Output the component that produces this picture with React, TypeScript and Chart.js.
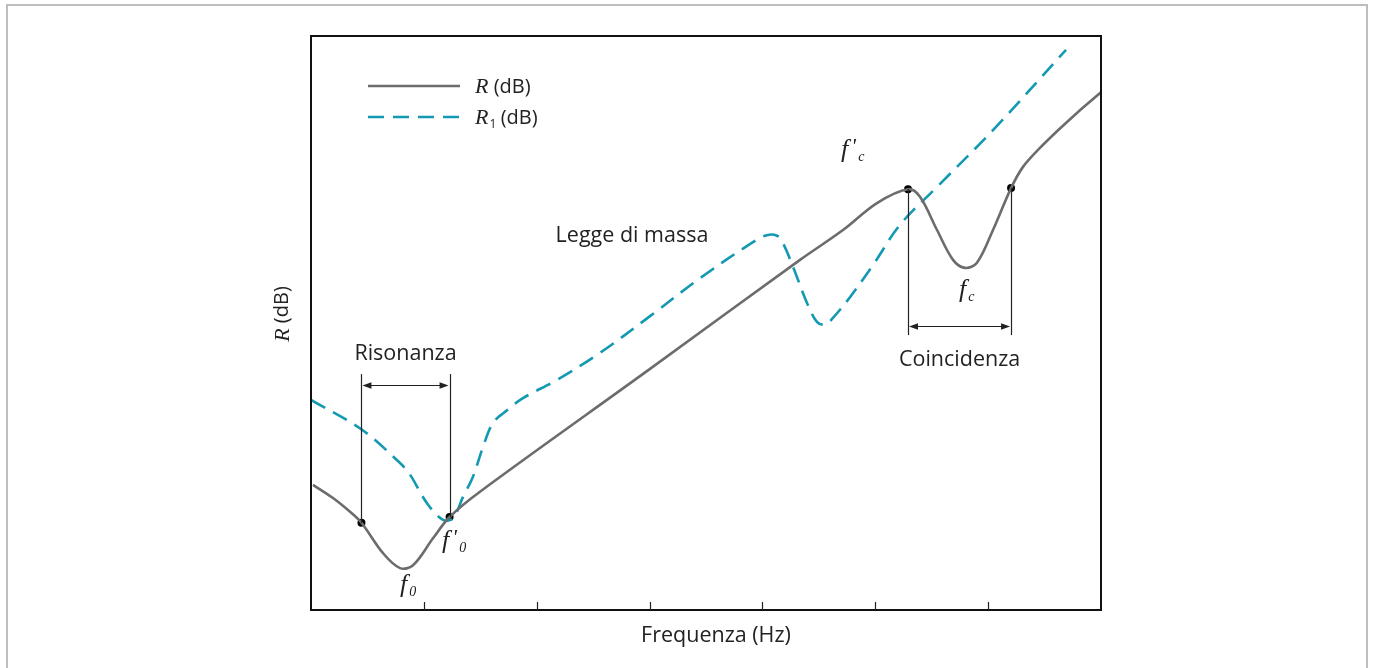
import React, { useEffect, useRef } from "react";
import { Chart, registerables } from "chart.js";

Chart.register(...registerables);

// ---- data (x: 0..7 frequency units, y: 0..100 dB units) ----
const rX = [0.018, 0.195, 0.346, 0.447, 0.638, 0.789, 0.904, 1.081, 1.228, 1.497, 3.004, 4.333, 4.714, 5.015, 5.29, 5.396, 5.547, 5.689, 5.795, 5.901, 6.043, 6.203, 6.309, 6.459, 6.61, 6.787, 7.0];
const rY = [21.8, 19.5, 17.1, 15.2, 9.9, 7.3, 7.8, 12.5, 16.2, 20.6, 42.0, 61.0, 66.2, 70.9, 73.3, 72.0, 66.2, 61.0, 59.6, 60.5, 66.2, 73.5, 77.2, 80.5, 83.4, 86.6, 90.2];

const r1X = [0.0, 0.452, 0.789, 0.877, 1.028, 1.17, 1.258, 1.347, 1.435, 1.524, 1.613, 1.737, 1.878, 2.18, 2.561, 3.004, 3.447, 3.916, 4.04, 4.129, 4.182, 4.271, 4.395, 4.483, 4.554, 4.625, 4.776, 4.98, 5.219, 5.547, 6.043, 6.69];
const r1Y = [36.6, 31.4, 25.6, 23.6, 18.6, 15.7, 16.0, 19.7, 23.2, 28.4, 32.6, 34.8, 36.9, 40.1, 44.8, 51.2, 57.8, 64.1, 65.3, 65.2, 63.9, 59.8, 53.5, 50.2, 49.7, 50.9, 54.5, 60.1, 67.1, 73.7, 83.6, 97.6];

const markerX = [0.447, 1.228, 5.29, 6.203];
const markerY = [15.2, 16.2, 73.3, 73.5];

const xTicks = [1, 2, 3, 4, 5, 6];

const legendLabels = ["R", "R1"];
const xTitle = "Frequenza (Hz)";
const yTitle = "R";
const unitText = " (dB)";

const resonanceRange = [0.447, 1.228];
const coincidenceRange = [5.29, 6.203];

const SANS = "'Open Sans', Lato, 'Noto Sans', sans-serif";
const SERIF = "'Liberation Serif', 'DejaVu Serif', serif";
const TEXT = "#222222";
const GREY = "#6c6c6c";
const TEAL = "#1399b1";
const FS = 21.5;

function arrowHead(ctx: CanvasRenderingContext2D, x: number, y: number, dir: number) {
  ctx.beginPath();
  ctx.moveTo(x, y);
  ctx.lineTo(x - dir * 9, y - 3.2);
  ctx.lineTo(x - dir * 9, y + 3.2);
  ctx.closePath();
  ctx.fill();
}

function fLabel(ctx: CanvasRenderingContext2D, x: number, y: number, prime: boolean, sub: string) {
  ctx.save();
  ctx.fillStyle = TEXT;
  ctx.textAlign = "left";
  ctx.textBaseline = "alphabetic";
  ctx.font = `italic 26px ${SERIF}`;
  ctx.fillText("f", x, y);
  let cx = x + ctx.measureText("f").width + 2;
  if (prime) {
    ctx.font = `italic 22px ${SERIF}`;
    ctx.fillText("'", cx + 1, y - 4);
    cx += 8;
  }
  ctx.font = `italic 14px ${SERIF}`;
  ctx.fillText(sub, cx, y + 4);
  ctx.restore();
}

const annotationPlugin = {
  id: "annotations",
  afterDraw(chart: any) {
    const ctx: CanvasRenderingContext2D = chart.ctx;
    const xs = chart.scales.x;
    const ys = chart.scales.y;
    const ca = chart.chartArea;
    const px = (v: number) => xs.getPixelForValue(v);
    const py = (v: number) => ys.getPixelForValue(v);

    ctx.save();
    // frame
    ctx.strokeStyle = "#111";
    ctx.lineWidth = 2;
    ctx.strokeRect(ca.left, ca.top, ca.right - ca.left, ca.bottom - ca.top);
    // inward ticks
    ctx.lineWidth = 1.2;
    ctx.strokeStyle = "#222";
    xTicks.forEach((t) => {
      const x = Math.round(px(t)) + 0.5;
      ctx.beginPath();
      ctx.moveTo(x, ca.bottom);
      ctx.lineTo(x, ca.bottom - 8);
      ctx.stroke();
    });

    // bracket helper
    const bracket = (range: number[], yA: number[], topY: number, arrowY: number, label: string, labelY: number) => {
      ctx.strokeStyle = "#222";
      ctx.fillStyle = "#222";
      ctx.lineWidth = 1.2;
      range.forEach((r, i) => {
        const x = Math.round(px(r)) + 0.5;
        ctx.beginPath();
        ctx.moveTo(x, py(yA[i]));
        ctx.lineTo(x, py(topY));
        ctx.stroke();
      });
      const x1 = px(range[0]) + 1;
      const x2 = px(range[1]) - 1;
      const ay = Math.round(py(arrowY)) + 0.5;
      ctx.beginPath();
      ctx.moveTo(x1 + 6, ay);
      ctx.lineTo(x2 - 6, ay);
      ctx.stroke();
      arrowHead(ctx, x1, ay, -1);
      arrowHead(ctx, x2, ay, 1);
      ctx.fillStyle = TEXT;
      ctx.font = `${FS}px ${SANS}`;
      ctx.textAlign = "center";
      ctx.textBaseline = "middle";
      ctx.fillText(label, (px(range[0]) + px(range[1])) / 2, py(labelY));
    };
    bracket(resonanceRange, [markerY[0], markerY[1]], 41.1, 39.2, "Risonanza", 44.6);
    bracket(coincidenceRange, [markerY[2], markerY[3]], 47.9, 49.5, "Coincidenza", 43.6);

    // Legge di massa
    ctx.fillStyle = TEXT;
    ctx.font = `${FS}px ${SANS}`;
    ctx.textAlign = "center";
    ctx.textBaseline = "middle";
    ctx.fillText("Legge di massa", px(2.844), py(65.2));

    // f labels
    fLabel(ctx, px(0.789), py(3.1), false, "0");
    fLabel(ctx, px(1.161), py(10.8), true, "0");
    fLabel(ctx, px(4.696), py(78.9), true, "c");
    fLabel(ctx, px(5.742), py(54.5), false, "c");

    // legend
    const lx1 = ca.left + 57;
    const lx2 = ca.left + 149;
    const rows = [ca.top + 50, ca.top + 81];
    ctx.lineWidth = 2.6;
    ctx.strokeStyle = GREY;
    ctx.setLineDash([]);
    ctx.beginPath();
    ctx.moveTo(lx1, rows[0]);
    ctx.lineTo(lx2, rows[0]);
    ctx.stroke();
    ctx.strokeStyle = TEAL;
    ctx.setLineDash([16, 9]);
    ctx.beginPath();
    ctx.moveTo(lx1, rows[1]);
    ctx.lineTo(lx2, rows[1]);
    ctx.stroke();
    ctx.setLineDash([]);
    legendLabels.forEach((lab, i) => {
      const tx = ca.left + 164;
      const ty = rows[i] + 7;
      ctx.textAlign = "left";
      ctx.textBaseline = "alphabetic";
      ctx.fillStyle = TEXT;
      ctx.font = `italic 22px ${SERIF}`;
      ctx.fillText("R", tx, ty);
      let cx = tx + ctx.measureText("R").width;
      if (lab.length > 1) {
        ctx.font = `12px ${SANS}`;
        ctx.fillText(lab.slice(1), cx + 1, ty + 4);
        cx += 7;
      }
      ctx.font = `20px ${SANS}`;
      ctx.fillText(unitText, cx, ty);
    });

    // x title
    ctx.fillStyle = TEXT;
    ctx.font = `${FS}px ${SANS}`;
    ctx.textAlign = "center";
    ctx.textBaseline = "middle";
    ctx.fillText(xTitle, (ca.left + ca.right) / 2 + 10, ca.bottom + 26);

    // y title (rotated)
    ctx.save();
    ctx.translate(ca.left - 29, (ca.top + ca.bottom) / 2 - 9);
    ctx.rotate(-Math.PI / 2);
    ctx.font = `italic 22px ${SERIF}`;
    const w1 = ctx.measureText(yTitle).width;
    ctx.font = `20px ${SANS}`;
    const w2 = ctx.measureText(unitText).width;
    const start = -(w1 + w2) / 2;
    ctx.textAlign = "left";
    ctx.textBaseline = "middle";
    ctx.font = `italic 22px ${SERIF}`;
    ctx.fillText(yTitle, start, 1);
    ctx.font = `20px ${SANS}`;
    ctx.fillText(unitText, start + w1, 0);
    ctx.restore();

    ctx.restore();
  },
};

export default function App() {
  const ref = useRef<HTMLCanvasElement | null>(null);
  useEffect(() => {
    if (!ref.current) return;
    const chart = new Chart(ref.current, {
      type: "line",
      data: {
        datasets: [
          {
            label: "R",
            data: rX.map((x, i) => ({ x, y: rY[i] })),
            borderColor: GREY,
            borderWidth: 2.6,
            pointRadius: 0,
            tension: 0.35,
            fill: false,
          },
          {
            label: "R1",
            data: r1X.map((x, i) => ({ x, y: r1Y[i] })),
            borderColor: TEAL,
            borderWidth: 2.6,
            borderDash: [16, 9],
            pointRadius: 0,
            tension: 0.35,
            fill: false,
          },
          {
            type: "scatter",
            label: "markers",
            data: markerX.map((x, i) => ({ x, y: markerY[i] })),
            pointRadius: 4,
            pointBackgroundColor: "#000",
            pointBorderWidth: 0,
            showLine: false,
          } as any,
        ],
      },
      options: {
        animation: false,
        responsive: false,
        maintainAspectRatio: false,
        devicePixelRatio: 1,
        layout: { padding: { left: 311, right: 272, top: 36, bottom: 58 } },
        scales: {
          x: { type: "linear", min: 0, max: 7, display: false },
          y: { type: "linear", min: 0, max: 100, display: false },
        },
        plugins: { legend: { display: false }, tooltip: { enabled: false } },
      },
      plugins: [annotationPlugin],
    } as any);
    return () => chart.destroy();
  }, []);

  return (
    <div style={{ position: "absolute", left: 0, top: 0, width: 1373, height: 668, overflow: "hidden", background: "#fff" }}>
      <div
        style={{
          position: "absolute",
          left: 6,
          top: 4,
          width: 1358,
          height: 700,
          border: "2px solid #bdbdbd",
        }}
      />
      <canvas ref={ref} width={1373} height={668} style={{ position: "absolute", left: 0, top: 0 }} />
    </div>
  );
}
